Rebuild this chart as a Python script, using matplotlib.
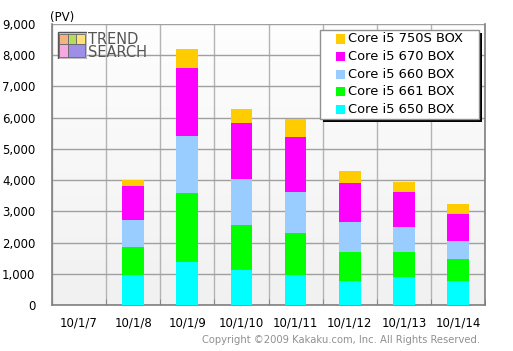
import matplotlib
matplotlib.use('Agg')
import matplotlib.pyplot as plt
import numpy as np
from matplotlib.patches import Rectangle

dates = ['10/1/7', '10/1/8', '10/1/9', '10/1/10', '10/1/11', '10/1/12', '10/1/13', '10/1/14']
series = ['Core i5 650 BOX', 'Core i5 661 BOX', 'Core i5 660 BOX', 'Core i5 670 BOX', 'Core i5 750S BOX']
i5_650 = [0, 960, 1380, 1120, 960, 770, 900, 770]
i5_661 = [0, 900, 2210, 1440, 1345, 930, 800, 700]
i5_660 = [0, 865, 1830, 1475, 1315, 960, 800, 580]
i5_670 = [0, 1100, 2180, 1795, 1760, 1250, 1120, 865]
i5_750s = [0, 180, 610, 450, 590, 385, 320, 320]
colors = ['#00FFFF', '#00FF00', '#99CCFF', '#FF00FF', '#FFCC00']
yticks = [0, 1000, 2000, 3000, 4000, 5000, 6000, 7000, 8000, 9000]

W, H = 513, 351
def fx(px):
    return px / W
def fy(py):
    return 1 - py / H

fig = plt.figure(figsize=(5.13, 3.51), dpi=100)
fig.patch.set_facecolor('white')
ax = fig.add_axes([fx(52), fy(305), 433 / W, 281 / H])

x = np.arange(len(dates))
ax.set_xlim(-0.5, len(dates) - 0.5)
ax.set_ylim(0, 9000)

# background gradient
grad = np.linspace(0.995, 0.945, 100).reshape(-1, 1)
ax.imshow(np.dstack([grad, grad, grad]), extent=[-0.5, len(dates) - 0.5, 0, 9000],
          aspect='auto', origin='upper', zorder=0)

bottom = np.zeros(len(dates))
data = [i5_650, i5_661, i5_660, i5_670, i5_750s]
for vals, c, name in zip(data, colors, series):
    ax.bar(x, vals, width=0.4, bottom=bottom, color=c, label=name, zorder=3, linewidth=0)
    bottom = bottom + np.array(vals)

ax.set_yticks(yticks)
ax.set_yticklabels([f'{v:,}' for v in yticks])
ax.set_xticks(x)
ax.set_xticklabels(dates)
ax.set_xticks(np.arange(-0.5, len(dates), 1), minor=True)
ax.grid(axis='y', color='#a0a0a0', linewidth=1, zorder=1)
ax.grid(axis='x', which='minor', color='#b4b4b4', linewidth=1, zorder=1)
ax.tick_params(axis='both', which='major', length=0, labelsize=8.5, colors='black', pad=8)
ax.tick_params(axis='x', which='minor', length=4, color='#808080', direction='in')
ax.tick_params(axis='y', pad=12)
for s in ['left', 'bottom', 'right']:
    ax.spines[s].set_color('#808080')
    ax.spines[s].set_linewidth(1.2)
ax.spines['top'].set_visible(False)

fig.text(fx(50), fy(17), '(PV)', fontsize=8.5, va='center', ha='left')
fig.text(fx(480), fy(340), 'Copyright \u00a92009 Kakaku.com, Inc. All Rights Reserved.',
         fontsize=7.2, color='#909090', ha='right', va='center')

# legend drawn by hand (shadowed box, top item = top of stack)
lx0, ly0, lx1, ly1 = 320, 30, 479, 119
fig.add_artist(Rectangle((fx(lx0 + 3), fy(ly1 + 3)), (lx1 - lx0) / W, (ly1 - ly0) / H,
                         transform=fig.transFigure, facecolor='black', edgecolor='none', zorder=10))
fig.add_artist(Rectangle((fx(lx0), fy(ly1)), (lx1 - lx0) / W, (ly1 - ly0) / H,
                         transform=fig.transFigure, facecolor='white', edgecolor='#909090',
                         linewidth=1, zorder=11))
row_y = [39, 56.5, 74, 91.5, 109]
for i, k in enumerate(range(4, -1, -1)):
    fig.add_artist(Rectangle((fx(336), fy(row_y[i] + 4.5)), 9 / W, 9 / H,
                             transform=fig.transFigure, facecolor=colors[k],
                             edgecolor='none', zorder=12))
    fig.text(fx(348), fy(row_y[i]), series[k], fontsize=9.4, va='center', ha='left', zorder=12)

# logo
lax = fig.add_axes([fx(57), fy(59), 30 / W, 28 / H])
lax.set_xlim(0, 30)
lax.set_ylim(0, 28)
lax.axis('off')
lax.add_patch(Rectangle((0.5, 0.5), 29, 27, facecolor='#d8d8d8', edgecolor='#555555', linewidth=1))
lax.add_patch(Rectangle((2, 15), 9, 10, facecolor='#f4b183', edgecolor='#666666', linewidth=0.6))
lax.add_patch(Rectangle((11, 15), 8, 10, facecolor='#b5dc5a', edgecolor='#666666', linewidth=0.6))
lax.add_patch(Rectangle((19, 15), 9, 10, facecolor='#ffe07a', edgecolor='#666666', linewidth=0.6))
lax.add_patch(Rectangle((2, 2), 9, 13, facecolor='#f7a8e0', edgecolor='#666666', linewidth=0.6))
lax.add_patch(Rectangle((11, 2), 17, 13, facecolor='#9d8fe8', edgecolor='#666666', linewidth=0.6))
fig.text(fx(88), fy(39), 'TREND', fontsize=10.5, color='#555555', va='center', ha='left',
         family=['Liberation Sans Narrow', 'DejaVu Sans'])
fig.text(fx(88), fy(52.5), 'SEARCH', fontsize=10.5, color='#555555', va='center', ha='left',
         family=['Liberation Sans Narrow', 'DejaVu Sans'])

fig.savefig('out.png', dpi=100)
